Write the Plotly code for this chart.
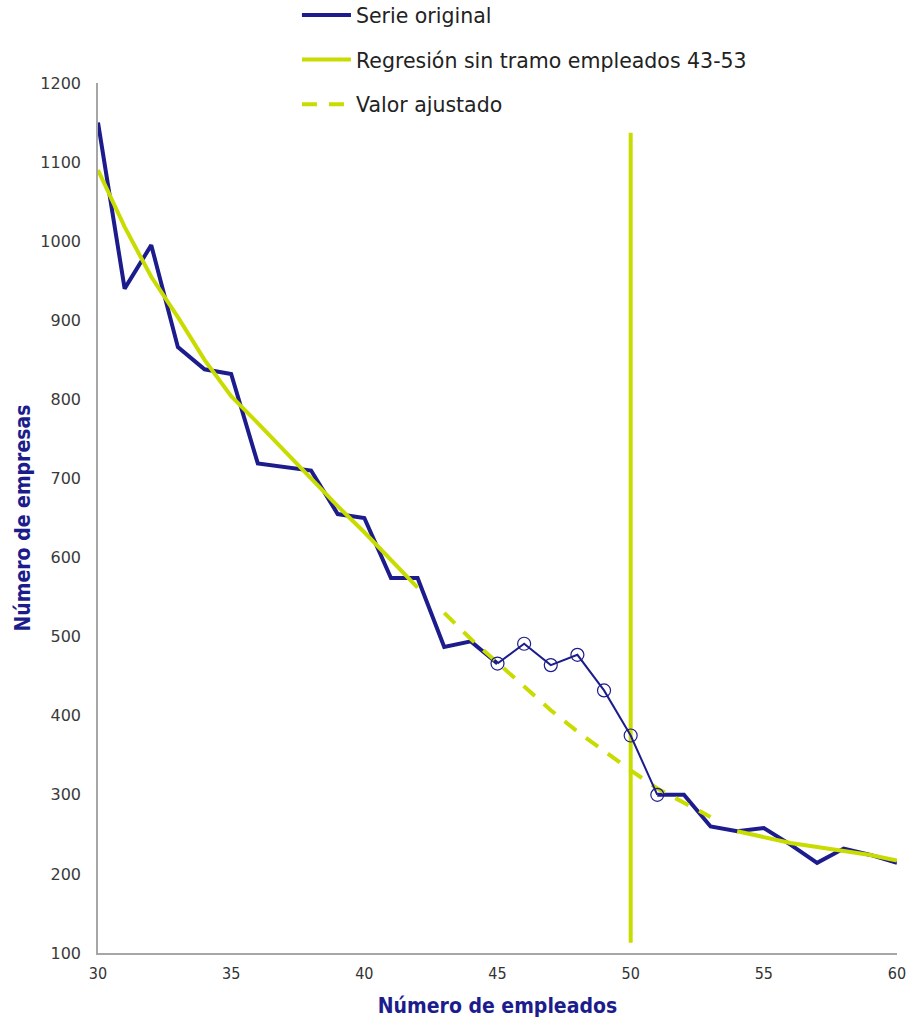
import plotly.graph_objects as go

# ---- data ----
empleados = list(range(30, 61))
empresas = [1150, 940, 995, 866, 838, 832, 719, 714, 710, 655, 650,
            574, 574, 487, 494, 466, 491, 464, 477, 432, 375,
            300, 300, 260, 254, 258, 237, 214, 232, 224, 214]

# highlighted stretch (markers)
tramo_x = list(range(45, 52))

# regression fitted without the 43-53 stretch
reg_x1 = list(range(30, 43))
reg_y1 = [1090, 1018, 955, 904, 850, 804, 770, 735, 700, 665, 632, 597, 562]
reg_x2 = list(range(54, 61))
reg_y2 = [254, 247, 239, 234, 229, 224, 217]

# fitted values over the excluded stretch
adj_x = list(range(43, 54))
adj_y = [530, 497, 467, 437, 407, 380, 355, 331, 308, 290, 272]

# vertical reference line at 50 employees
vline_x = [50, 50]
vline_y = [113, 1137]

x_ticks = [30, 35, 40, 45, 50, 55, 60]
y_ticks = list(range(100, 1201, 100))

BLUE = "#1c1c8c"
YELLOW = "#c8dc00"
NARROW = "Liberation Sans Narrow, DejaVu Sans Condensed, Roboto Condensed, Liberation Sans"

lookup = dict(zip(empleados, empresas))
tramo_y = [lookup[v] for v in tramo_x]
part1_x = [v for v in empleados if v <= 45]
part1_y = [lookup[v] for v in part1_x]
part2_x = [v for v in empleados if v >= 51]
part2_y = [lookup[v] for v in part2_x]

fig = go.Figure()

fig.add_trace(go.Scatter(x=vline_x, y=vline_y, mode="lines",
                         line=dict(color=YELLOW, width=4), showlegend=False,
                         hoverinfo="skip", legendgroup="z"))

fig.add_trace(go.Scatter(x=part1_x, y=part1_y, mode="lines", name="Serie original",
                         line=dict(color=BLUE, width=4), legendgroup="a"))
fig.add_trace(go.Scatter(x=part2_x, y=part2_y, mode="lines", showlegend=False,
                         line=dict(color=BLUE, width=4), legendgroup="a"))

fig.add_trace(go.Scatter(x=reg_x1, y=reg_y1, mode="lines",
                         name="Regresión sin tramo empleados 43-53",
                         line=dict(color=YELLOW, width=4), legendgroup="b"))
fig.add_trace(go.Scatter(x=reg_x2, y=reg_y2, mode="lines", showlegend=False,
                         line=dict(color=YELLOW, width=4), legendgroup="b"))

fig.add_trace(go.Scatter(x=adj_x, y=adj_y, mode="lines", name="Valor ajustado",
                         line=dict(color=YELLOW, width=4, dash="15px,12px"),
                         legendgroup="c"))

fig.add_trace(go.Scatter(x=tramo_x, y=tramo_y, mode="lines+markers", showlegend=False,
                         line=dict(color=BLUE, width=2), legendgroup="a",
                         marker=dict(symbol="circle-open", size=13,
                                     color=BLUE, line=dict(width=1.2))))

fig.update_layout(
    width=907, height=1018,
    margin=dict(l=98, r=10, t=83, b=65, autoexpand=False),
    plot_bgcolor="white", paper_bgcolor="white",
    font=dict(family="DejaVu Sans", color="#333333"),
    legend=dict(x=0.249, y=1.101, xanchor="left", yanchor="top",
                font=dict(size=20.5, color="#222222", family="DejaVu Sans"),
                tracegroupgap=15, bgcolor="rgba(0,0,0,0)", traceorder="grouped",
                itemwidth=49),
    showlegend=True,
)

fig.update_xaxes(range=[30, 60], tickvals=x_ticks, showgrid=False, zeroline=False,
                 showline=True, linecolor="#a6a6a6", linewidth=1.5, ticks="",
                 automargin=False, ticklabelstandoff=5,
                 tickfont=dict(family=NARROW, size=16, color="#333333"),
                 title=dict(text="<b>Número de empleados</b>", standoff=18,
                            font=dict(family=NARROW, size=21, color=BLUE)))
fig.update_yaxes(range=[100, 1200], tickvals=y_ticks, showgrid=False, zeroline=False,
                 showline=True, linecolor="#a6a6a6", linewidth=1.5, ticks="",
                 automargin=False, ticklabelstandoff=12,
                 tickfont=dict(family="DejaVu Sans", size=16, color="#3a3a3a"),
                 title=dict(text="<b>Número de empresas</b>", standoff=4,
                            font=dict(family=NARROW, size=21, color=BLUE)))

fig.write_html("out.html", config={"displayModeBar": False},
               post_script="document.body.style.margin='0px';document.body.style.overflow='hidden';")
